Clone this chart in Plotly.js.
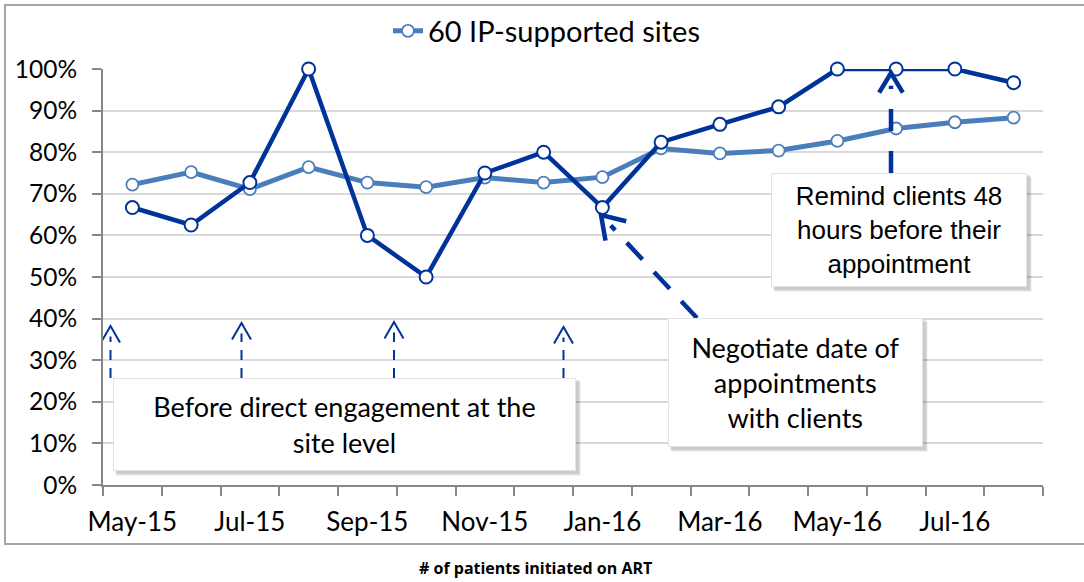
<!DOCTYPE html>
<html>
<head>
<meta charset="utf-8">
<script src="https://cdn.plot.ly/plotly-3.0.1.min.js"></script>
<style>
  html, body { margin: 0; padding: 0; background: #ffffff; }
  #chart { width: 1084px; height: 582px; }
</style>
</head>
<body>
<div id="chart"></div>
<script>
// monthly share
const months = ['May-15', 'Jun-15', 'Jul-15', 'Aug-15', 'Sep-15', 'Oct-15', 'Nov-15', 'Dec-15',
  'Jan-16', 'Feb-16', 'Mar-16', 'Apr-16', 'May-16', 'Jun-16', 'Jul-16', 'Aug-16'];
const ipSites = [0.722, 0.752, 0.711, 0.764, 0.727, 0.716, 0.739, 0.727,
  0.740, 0.809, 0.797, 0.804, 0.827, 0.857, 0.872, 0.883];
const focusSite = [0.667, 0.625, 0.727, 1.0, 0.6, 0.5, 0.75, 0.8,
  0.667, 0.824, 0.867, 0.909, 1.0, 1.0, 1.0, 0.967];
const labelEvery = 2;

const chart = document.querySelector('#chart');

const LIGHT = '#4a7ebb';
const DARK = '#003399';
const AXIS = '#868686';
const GRID = '#d9d9d9';
const BODY_FONT = 'Lato, "Open Sans", sans-serif';

// plot box in pixels
const M = { l: 103, r: 41, t: 69, b: 97 };
const W = 1084 - M.l - M.r;
const H = 582 - M.t - M.b;

// pixel -> axis / paper helpers for the callouts
const xs = months.map((m, i) => i);
const dx = (px) => (px - M.l) / (W / months.length) - 0.5;
const dy = (py) => (M.t + H - py) / H;
const pxX = (px) => (px - M.l) / W;
const pxY = (py) => (M.t + H - py) / H;

const tickIdx = xs.filter((i) => i % labelEvery === 0);

function arrowShapes(tail, tip, width, dash, arm, spread) {
  const vx = tail[0] - tip[0];
  const vy = tail[1] - tip[1];
  const len = Math.hypot(vx, vy);
  const ux = vx / len;
  const uy = vy / len;
  const a = spread * Math.PI / 180;
  const rot = (ang) => [ux * Math.cos(ang) - uy * Math.sin(ang), ux * Math.sin(ang) + uy * Math.cos(ang)];
  const r1 = rot(a);
  const r2 = rot(-a);
  const p1 = [tip[0] + r1[0] * arm, tip[1] + r1[1] * arm];
  const p2 = [tip[0] + r2[0] * arm, tip[1] + r2[1] * arm];
  const start = [tip[0] + ux * arm * 0.55, tip[1] + uy * arm * 0.55];
  return [
    {
      type: 'line', xref: 'x', yref: 'y', layer: 'above',
      x0: dx(tail[0]), y0: dy(tail[1]), x1: dx(start[0]), y1: dy(start[1]),
      line: { color: DARK, width: width, dash: dash }
    },
    {
      type: 'path', xref: 'x', yref: 'y', layer: 'above',
      path: `M${dx(p1[0])},${dy(p1[1])} L${dx(tip[0])},${dy(tip[1])} L${dx(p2[0])},${dy(p2[1])}`,
      line: { color: DARK, width: width }
    }
  ];
}

function shadow(x0, y0, x1, y1) {
  const out = [];
  [[5, 0.05], [4, 0.07], [3, 0.09]].forEach(([off, op]) => {
    out.push({
      type: 'rect', xref: 'paper', yref: 'paper', layer: 'above',
      x0: pxX(x0 + off - 1), x1: pxX(x1 + off), y0: pxY(y1 + off), y1: pxY(y0 + off - 1),
      fillcolor: `rgba(0,0,0,${op})`, line: { width: 0 }
    });
  });
  return out;
}

function box(text, x0, y0, x1, y1, font) {
  return {
    xref: 'paper', yref: 'paper',
    x: pxX((x0 + x1) / 2), y: pxY((y0 + y1) / 2),
    xanchor: 'center', yanchor: 'middle',
    width: x1 - x0 - 2, height: y1 - y0 - 2,
    text: text, showarrow: false, align: 'center', valign: 'middle',
    bgcolor: '#ffffff', bordercolor: '#e3e3e3', borderwidth: 1, borderpad: 0,
    font: font
  };
}

const data = [
  {
    type: 'scatter', mode: 'lines+markers', name: '60 IP-supported sites',
    x: xs, y: ipSites, cliponaxis: false,
    line: { color: LIGHT, width: 5 },
    marker: { symbol: 'circle', size: 12, color: '#ffffff', line: { color: LIGHT, width: 1.8 } }
  },
  {
    type: 'scatter', mode: 'lines+markers', name: 'Site', showlegend: false,
    x: xs, y: focusSite, cliponaxis: false,
    line: { color: DARK, width: 4.5 },
    marker: { symbol: 'circle', size: 13, color: '#ffffff', line: { color: DARK, width: 2 } }
  }
];

const shapes = [
  // chart frame
  {
    type: 'rect', xref: 'paper', yref: 'paper', layer: 'below',
    x0: pxX(5), x1: pxX(1095), y0: pxY(544), y1: pxY(5),
    line: { color: '#a6a6a6', width: 2 }, fillcolor: 'rgba(0,0,0,0)'
  },
  ...shadow(113, 378, 576, 471),
  ...shadow(668, 318, 923, 447),
  ...shadow(771, 173, 1027, 287),
  ...arrowShapes([110.5, 378], [110.5, 326], 2, '10px,8px', 19, 30),
  ...arrowShapes([241.5, 378], [241.5, 323], 2, '10px,8px', 19, 30),
  ...arrowShapes([394, 378], [394, 322], 2, '10px,8px', 19, 30),
  ...arrowShapes([563.5, 378], [563.5, 327], 2, '10px,8px', 19, 30),
  ...arrowShapes([697, 318], [601, 215], 4.5, '23px,17px', 26, 33),
  ...arrowShapes([891, 173], [891, 73], 4.5, '22px,20px', 23, 31)
];

const annotations = [
  box('Before direct engagement at the<br>site level', 113, 378, 576, 471,
    { family: BODY_FONT, size: 27, color: '#000000' }),
  box('Negotiate date of<br>appointments<br>with clients', 668, 318, 923, 447,
    { family: BODY_FONT, size: 27, color: '#000000' }),
  box('Remind clients 48<br>hours before their<br>appointment', 771, 173, 1027, 287,
    { family: '"Liberation Sans", Arial, sans-serif', size: 26, color: '#000000' }),
  {
    xref: 'paper', yref: 'paper', x: pxX(535), y: pxY(580),
    xanchor: 'center', yanchor: 'bottom', showarrow: false, borderpad: 0,
    text: '<b># of patients initiated on ART</b>',
    font: { family: '"Open Sans", sans-serif', size: 16, color: '#000000' }
  }
];

const layout = {
  width: 1084,
  height: 582,
  margin: { ...M, autoexpand: false },
  paper_bgcolor: '#ffffff',
  plot_bgcolor: '#ffffff',
  showlegend: true,
  legend: {
    orientation: 'h',
    x: pxX(388), xanchor: 'left',
    y: pxY(31), yanchor: 'middle',
    font: { family: BODY_FONT, size: 29, color: '#000000' },
    bgcolor: 'rgba(0,0,0,0)'
  },
  xaxis: {
    type: 'linear',
    range: [-0.5, months.length - 0.5],
    tickmode: 'array',
    tickvals: tickIdx,
    ticktext: tickIdx.map((i) => months[i]),
    ticks: '',
    ticklabelstandoff: 13,
    showgrid: false,
    zeroline: false,
    showline: true,
    linecolor: AXIS,
    linewidth: 2,
    automargin: false,
    tickfont: { family: BODY_FONT, size: 26, color: '#000000' },
    minor: {
      tick0: -0.5, dtick: 1, ticks: 'outside', ticklen: 9,
      tickcolor: AXIS, tickwidth: 2, showgrid: false
    }
  },
  yaxis: {
    range: [0, 1],
    dtick: 0.1,
    tickformat: '.0%',
    ticks: 'outside',
    ticklen: 9,
    tickwidth: 2,
    tickcolor: AXIS,
    showline: true,
    linecolor: AXIS,
    linewidth: 2,
    gridcolor: GRID,
    gridwidth: 2,
    zeroline: false,
    automargin: false,
    ticklabelstandoff: 10,
    tickfont: { family: BODY_FONT, size: 24.5, color: '#000000' }
  },
  shapes: shapes,
  annotations: annotations
};

Plotly.newPlot(chart, data, layout, { displayModeBar: false, staticPlot: true });
</script>
</body>
</html>
